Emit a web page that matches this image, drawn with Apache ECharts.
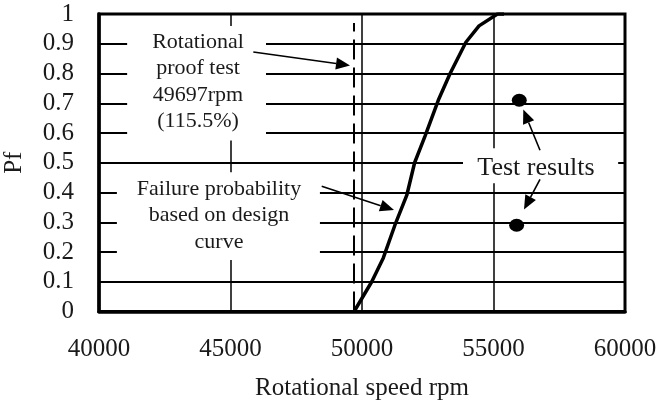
<!DOCTYPE html>
<html>
<head>
<meta charset="utf-8">
<script src="https://cdn.jsdelivr.net/npm/echarts@6/dist/echarts.min.js"></script>
<style>
html,body{margin:0;padding:0;background:#fff}
#main{width:658px;height:405px}
</style>
</head>
<body>
<div id="main"></div>
<script>
// design curve: failure probability vs rotational speed
const curveSpeed = [49700, 50370, 50810, 51250, 51700, 52000, 52400, 52900, 53350, 53950, 54450, 55150, 55400]
const curvePf = [0, 0.1, 0.18, 0.29, 0.39, 0.5, 0.59, 0.71, 0.8, 0.905, 0.96, 1.0, 1.0]
// test results
const testSpeed = [55980, 55880]
const testPf = [0.71, 0.29]
// rotational proof test line
const proofSpeed = [49697, 49697]
const proofPf = [0, 0.97]
// axis ticks
const xTicks = [40000, 45000, 50000, 55000, 60000]
const yTicks = [0, 0.1, 0.2, 0.3, 0.4, 0.5, 0.6, 0.7, 0.8, 0.9, 1]

const FONT = 'Liberation Serif'
const TXT = '#1a1a1a'

const chart = echarts.init(document.getElementById('main'))
chart.setOption({
  animation: false,
  grid: { left: 99, right: 33, top: 14, bottom: 93.5, show: true, borderColor: '#000', borderWidth: 3,
    containLabel: false, outerBoundsMode: 'none' },
  xAxis: {
    type: 'value',
    min: xTicks[0], max: xTicks[xTicks.length - 1], interval: xTicks[1] - xTicks[0],
    name: 'Rotational speed rpm', nameLocation: 'middle', nameGap: 64,
    nameTextStyle: { fontFamily: FONT, fontSize: 25, color: TXT },
    axisLine: { lineStyle: { color: '#000', width: 3.5 } },
    axisTick: { show: false },
    axisLabel: { fontFamily: FONT, fontSize: 25, color: TXT, margin: 25, formatter: v => String(v) },
    splitLine: { lineStyle: { color: '#000', width: 1.5 } }
  },
  yAxis: {
    type: 'value',
    min: yTicks[0], max: yTicks[yTicks.length - 1], interval: 0.1,
    name: 'Pf', nameLocation: 'middle', nameGap: 72, nameRotate: 90,
    nameTextStyle: { fontFamily: FONT, fontSize: 25, color: TXT },
    axisLine: { lineStyle: { color: '#000', width: 3.5 } },
    axisTick: { show: false },
    axisLabel: { fontFamily: FONT, fontSize: 25, color: TXT, margin: 25,
      formatter: v => String(Math.round(v * 10) / 10) },
    splitLine: { lineStyle: { color: '#000', width: 1.8 } }
  },
  series: [
    {
      type: 'line', showSymbol: false, z: 3,
      data: curveSpeed.map((s, i) => [s, curvePf[i]]),
      lineStyle: { color: '#000', width: 3.5 }
    },
    {
      type: 'line', showSymbol: false,
      data: proofSpeed.map((s, i) => [s, proofPf[i]]),
      lineStyle: { color: '#000', width: 2, type: [20, 8] }
    },
    {
      type: 'scatter', symbol: 'circle', symbolSize: [15, 13], z: 4,
      data: testSpeed.map((s, i) => [s, testPf[i]]),
      itemStyle: { color: '#000', opacity: 1 }
    }
  ]
})

// annotations, placed in data units
const boxes = [[41070, 0.96, 46350, 0.575], [40680, 0.468, 48400, 0.173], [53840, 0.549, 59740, 0.431]]
const notes = [
  { text: 'Rotational\nproof test\n49697rpm\n(115.5%)', at: [43764, 0.773], size: 22 },
  { text: 'Failure probability\nbased on design\ncurve', at: [44563, 0.322], size: 22 },
  { text: 'Test results', at: [56616, 0.4815], size: 26 }
]
const arrows = [
  [[45867, 0.872], [49544, 0.827]],
  [[48468, 0.421], [51217, 0.341]],
  [[56768, 0.542], [56133, 0.679]],
  [[56768, 0.444], [56160, 0.343]]
]

const px = p => chart.convertToPixel({ gridIndex: 0 }, p)
const els = []
boxes.forEach(b => {
  const a = px([b[0], b[1]]), c = px([b[2], b[3]])
  els.push({ type: 'rect', z: 50, shape: { x: a[0], y: a[1], width: c[0] - a[0], height: c[1] - a[1] },
    style: { fill: '#fff' } })
})
notes.forEach(n => {
  const p = px(n.at)
  els.push({ type: 'text', z: 60, x: p[0], y: p[1],
    style: { text: n.text, fontFamily: FONT, fontSize: n.size, fill: TXT, align: 'center',
      verticalAlign: 'middle', lineHeight: 26.5 } })
})
arrows.forEach(ar => {
  const s = px(ar[0]), t = px(ar[1])
  const dx = t[0] - s[0], dy = t[1] - s[1], L = Math.hypot(dx, dy)
  const ux = dx / L, uy = dy / L, hl = 14, hw = 6
  const bx = t[0] - ux * hl, by = t[1] - uy * hl
  els.push({ type: 'line', z: 60, shape: { x1: s[0], y1: s[1], x2: bx, y2: by },
    style: { stroke: '#000', lineWidth: 1.6 } })
  els.push({ type: 'polygon', z: 60,
    shape: { points: [[t[0], t[1]], [bx - uy * hw, by + ux * hw], [bx + uy * hw, by - ux * hw]] },
    style: { fill: '#000' } })
})
chart.setOption({ graphic: { elements: els } })
</script>
</body>
</html>
